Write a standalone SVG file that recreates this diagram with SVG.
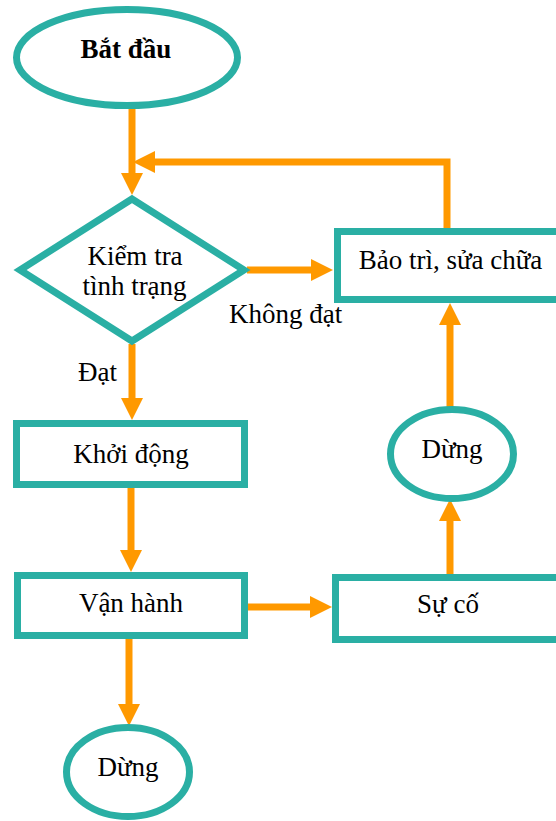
<svg xmlns="http://www.w3.org/2000/svg" width="556" height="821" viewBox="0 0 556 821">
<defs>
<style>
.shape{fill:#ffffff;stroke:#2AAFA4;stroke-width:7}
.conn{fill:none;stroke:#FF9900;stroke-width:7}
.t{font-family:"Liberation Serif","Times New Roman",serif;font-size:27px;fill:#000000;text-anchor:middle}
.b{font-weight:bold}
.l{text-anchor:start}
</style>
<marker id="ah" markerUnits="userSpaceOnUse" markerWidth="22" markerHeight="22" refX="0" refY="11" orient="auto" viewBox="0 0 22 22">
<path d="M0,0 L22,11 L0,22 Z" fill="#FF9900"/>
</marker>
</defs>
<rect width="556" height="821" fill="#ffffff"/>
<g id="connectors">
<path class="conn" d="M132,109 V173" marker-end="url(#ah)"/>
<path class="conn" d="M447,232 V162 H155" marker-end="url(#ah)"/>
<path class="conn" d="M247,270 H311" marker-end="url(#ah)"/>
<path class="conn" d="M132,344 V398" marker-end="url(#ah)"/>
<path class="conn" d="M131,488 V550" marker-end="url(#ah)"/>
<path class="conn" d="M248,607 H310" marker-end="url(#ah)"/>
<path class="conn" d="M129,639 V704" marker-end="url(#ah)"/>
<path class="conn" d="M450,574 V521" marker-end="url(#ah)"/>
<path class="conn" d="M450,407 V325" marker-end="url(#ah)"/>
</g>
<g id="start">
<ellipse class="shape" cx="127" cy="57.5" rx="110.5" ry="48"/>
<text class="t b" x="126" y="58">Bắt đầu</text>
</g>
<g id="check">
<polygon class="shape" points="132,199 244,270 132,341 20,270"/>
<text class="t" x="135" y="265">Kiểm tra</text>
<text class="t" x="134.5" y="295">tình trạng</text>
</g>
<g id="label-fail">
<text class="t l" x="229" y="323">Không đạt</text>
</g>
<g id="label-pass">
<text class="t l" x="78" y="381">Đạt</text>
</g>
<g id="maintain">
<rect class="shape" x="337.5" y="231.5" width="230" height="68"/>
<text class="t" x="450.5" y="269">Bảo trì, sửa chữa</text>
</g>
<g id="startup">
<rect class="shape" x="16.5" y="423.5" width="228" height="61"/>
<text class="t" x="131" y="463">Khởi động</text>
</g>
<g id="operate">
<rect class="shape" x="17.5" y="575.5" width="227" height="60"/>
<text class="t" x="131" y="612">Vận hành</text>
</g>
<g id="fault">
<rect class="shape" x="335.5" y="577.5" width="230" height="62"/>
<text class="t" x="448" y="613">Sự cố</text>
</g>
<g id="stop-right">
<ellipse class="shape" cx="452" cy="454" rx="61.5" ry="44.5"/>
<text class="t" x="452" y="458">Dừng</text>
</g>
<g id="stop-bottom">
<ellipse class="shape" cx="128" cy="772" rx="61.5" ry="44.5"/>
<text class="t" x="128" y="776">Dừng</text>
</g>
</svg>
